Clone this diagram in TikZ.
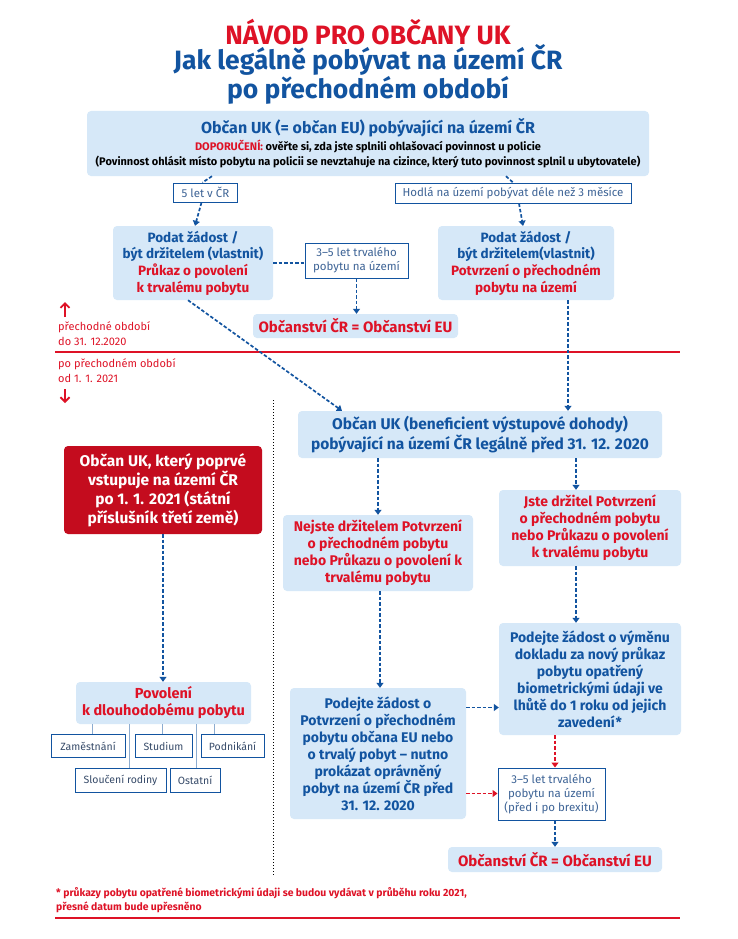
\documentclass[tikz,border=0pt]{standalone}
\usepackage{fontspec}
\setmainfont{Fira Sans}
\usetikzlibrary{arrows.meta,calc}
\definecolor{cblue}{RGB}{18,84,160}
\definecolor{cred}{RGB}{222,18,38}
\definecolor{cbox}{RGB}{214,232,248}
\definecolor{cdark}{RGB}{196,12,30}
\definecolor{cgrey}{RGB}{55,75,105}
\definecolor{csoft}{RGB}{62,100,150}
\definecolor{cline}{RGB}{140,172,208}
\begin{document}
\begin{tikzpicture}[x=1pt,y=-1pt,
  bbox/.style={fill=cbox, rounded corners=4pt, inner sep=0pt, align=center, font=\bfseries\fontsize{14}{17}\selectfont, text=cblue},
  sbox/.style={draw=cblue, line width=1pt, fill=white, inner sep=0pt, align=center, font=\fontsize{11.5}{14}\selectfont, text=csoft},
  catbox/.style={sbox, text=cgrey, font=\fontsize{10.5}{13}\selectfont},
  conn/.style={draw=cblue, line width=1.7pt, dash pattern=on 3.5pt off 2pt, -{Triangle[width=7pt,length=5pt]}},
  rconn/.style={conn, draw=cred},
  plainconn/.style={draw=cblue, line width=1.7pt, dash pattern=on 3.5pt off 2pt},
  thinline/.style={draw=cline, line width=0.8pt},
  rtext/.style={anchor=west, text=cred, font=\fontsize{11}{13}\selectfont, inner sep=0pt},
  periodarrow/.style={draw=cred, line width=1.8pt, -{Straight Barb[width=9pt,length=4.5pt]}},
]
\useasboundingbox[fill=white] (0,0) rectangle (738,939);

% title
\node[font=\bfseries\fontsize{26.5}{28}\selectfont, text=cred] (t1) at (368,32) {NÁVOD PRO OBČANY UK};
\node[font=\bfseries\fontsize{26.5}{28}\selectfont, text=cblue, align=center] (t2) at (368,74) {Jak legálně pobývat na území ČR\\po přechodném období};

% top box
\node[bbox, minimum width=562pt, minimum height=65pt] (top) at (368,143.5)
 {{\fontsize{16}{19}\selectfont Občan UK (= občan EU) pobývající na území ČR}\\[0pt]
  {\fontsize{11}{14}\selectfont\color{black}\textcolor{cred}{DOPORUČENÍ:} ověřte si, zda jste splnili ohlašovací povinnost u policie}\\[-2pt]
  {\fontsize{11}{14}\selectfont\color{black}(Povinnost ohlásit místo pobytu na policii se nevztahuje na cizince, který tuto povinnost splnil u ubytovatele)}};

\node[sbox, minimum width=64pt, minimum height=19pt] (let5) at (205.5,192.5) {5 let v ČR};
\node[sbox, minimum width=236pt, minimum height=20pt] (hodla) at (513,193) {Hodlá na území pobývat déle než 3 měsíce};

\node[bbox, minimum width=160pt, minimum height=74pt, font=\bfseries\fontsize{13.5}{16.7}\selectfont] (podL) at (193,263)
 {Podat žádost /\\být držitelem (vlastnit)\\\textcolor{cred}{Průkaz o povolení}\\\textcolor{cred}{k trvalému pobytu}};
\node[sbox, minimum width=103pt, minimum height=35pt] (let35a) at (356.5,260.5) {3–5 let trvalého\\pobytu na území};
\node[bbox, minimum width=205pt, minimum height=24pt, text=cred, font=\bfseries\fontsize{15}{17}\selectfont] (obcA) at (355.5,326) {Občanství ČR = Občanství EU};
\node[bbox, minimum width=176pt, minimum height=74pt, font=\bfseries\fontsize{13.5}{16.7}\selectfont] (podR) at (526,263)
 {Podat žádost /\\být držitelem(vlastnit)\\\textcolor{cred}{Potvrzení o přechodném}\\\textcolor{cred}{pobytu na území}};

% period separators
\coordinate (ua) at (65,317); \coordinate (ub) at (65,302);
\draw[periodarrow] (ua) -- (ub);
\node[rtext] (pre1) at (58,327) {přechodné období};
\node[rtext] (pre2) at (58,341) {do 31. 12.2020};
\draw[cred, line width=1.8pt] (55,352) -- (680,352);
\node[rtext] (po1) at (58,364) {po přechodném období};
\node[rtext] (po2) at (58,378) {od 1. 1. 2021};
\coordinate (da) at (65,389); \coordinate (db) at (65,403);
\draw[periodarrow] (da) -- (db);

% dotted separator
\draw[black, line width=1pt, dotted] (273,400) -- (273,875);

% after period
\node[bbox, minimum width=364pt, minimum height=47pt, font=\bfseries\fontsize{15.5}{19.5}\selectfont] (benef) at (480,434.5)
 {Občan UK (beneficient výstupové dohody)\\pobývající na území ČR legálně před 31. 12. 2020};
\node[fill=cdark, rounded corners=4pt, inner sep=0pt, minimum width=198pt, minimum height=88pt, align=center, text=white, font=\bfseries\fontsize{15.5}{19}\selectfont] (ukred) at (163,490)
 {Občan UK, který poprvé\\vstupuje na území ČR\\po 1. 1. 2021 (státní\\příslušník třetí země)};

\node[bbox, minimum width=190pt, minimum height=76pt, text=cred] (nejste) at (378,553)
 {Nejste držitelem Potvrzení\\o přechodném pobytu\\nebo Průkazu o povolení k\\trvalému pobytu};
\node[bbox, minimum width=182pt, minimum height=76pt, text=cred] (jste) at (590,528)
 {Jste držitel Potvrzení\\o přechodném pobytu\\nebo Průkazu o povolení\\k trvalému pobytu};
\node[bbox, minimum width=182pt, minimum height=112pt] (podejV) at (590,679)
 {Podejte žádost o výměnu\\dokladu za nový průkaz\\pobytu opatřený\\biometrickými údaji ve\\lhůtě do 1 roku od jejich\\zavedení*};
\node[bbox, minimum width=176pt, minimum height=131pt] (podejP) at (378,753.5)
 {Podejte žádost o\\Potvrzení o přechodném\\pobytu občana EU nebo\\o trvalý pobyt – nutno\\prokázat oprávněný\\pobyt na území ČR před\\31. 12. 2020};
\node[sbox, minimum width=107pt, minimum height=52pt] (let35b) at (551.5,794) {3–5 let trvalého\\pobytu na území\\(před i po brexitu)};
\node[bbox, minimum width=214pt, minimum height=25pt, text=cred, font=\bfseries\fontsize{15}{17}\selectfont] (obcB) at (555,859.5) {Občanství ČR = Občanství EU};

% povolení and categories
\coordinate (c1) at (92,735); \coordinate (c2) at (129,768); \coordinate (c3) at (162,735);
\coordinate (c4) at (196,768); \coordinate (c5) at (214,735);
\node[bbox, minimum width=175pt, minimum height=42pt, text=cred, font=\bfseries\fontsize{14.5}{17}\selectfont] (povol) at (163.5,703) {Povolení\\k dlouhodobému pobytu};
\foreach \c in {c1,c2,c3,c4,c5} \draw[thinline] (\c |- povol.south) -- (\c);
\node[catbox, minimum width=74pt, minimum height=23pt] (zam) at (88,746) {Zaměstnání};
\node[catbox, minimum width=57pt, minimum height=23pt] (stud) at (163.5,746) {Studium};
\node[catbox, minimum width=63pt, minimum height=23pt] (podn) at (232.5,746) {Podnikání};
\node[catbox, minimum width=91pt, minimum height=24pt] (slouc) at (120.5,780) {Sloučení rodiny};
\node[catbox, minimum width=50pt, minimum height=24pt] (ost) at (195,780) {Ostatní};

% connectors
\draw[plainconn] ([xshift=-156pt]top.south) -- ([xshift=-3pt]let5.north);
\draw[conn] ([xshift=-4pt]let5.south) -- ([xshift=2pt]podL.north);
\draw[plainconn] ([xshift=138pt]top.south) -- ([xshift=0pt]hodla.north);
\draw[conn] ([xshift=6pt]hodla.south) -- ([xshift=-3pt]podR.north);
\draw[plainconn] (podL.east) -- (podL.east -| let35a.west);
\draw[conn] (let35a.south) -- (let35a.south |- obcA.north);
\draw[conn] ([xshift=-5pt]podL.south) -- ([xshift=-138pt]benef.north);
\coordinate (pr) at ([xshift=42pt]podR.south);
\draw[conn] (pr) -- (pr |- benef.north);
\draw[conn] (benef.south -| nejste.north) -- (nejste.north);
\coordinate (jt) at ([xshift=-14pt]jste.north);
\draw[conn] (jt |- benef.south) -- (jt);
\coordinate (js) at ([xshift=-14pt]jste.south);
\draw[conn] (js) -- (js |- podejV.north);
\coordinate (ns) at ([xshift=2pt]nejste.south);
\draw[conn] (ns) -- (ns |- podejP.north);
\coordinate (pp1) at ([yshift=46pt]podejP.east);
\draw[conn] (pp1) -- (pp1 -| podejV.west);
\coordinate (pp2) at ([yshift=-40pt]podejP.east);
\draw[rconn] (pp2) -- (pp2 -| let35b.west);
\coordinate (pv) at ([xshift=-35pt]podejV.south);
\draw[rconn] (pv) -- (pv |- let35b.north);
\coordinate (lb) at ([xshift=3.5pt]let35b.south);
\draw[conn] (lb) -- (lb |- obcB.north);
\draw[conn] (ukred.south) -- (ukred.south |- povol.north);

% footnote
\node[rtext, font=\bfseries\fontsize{10.4}{13}\selectfont] (fn1) at (56,893) {* průkazy pobytu opatřené biometrickými údaji se budou vydávat v průběhu roku 2021,};
\node[rtext, font=\bfseries\fontsize{10.4}{13}\selectfont] (fn2) at (56,907) {přesné datum bude upřesněno};
\draw[cred, line width=1.8pt] (55,918) -- (680,918);
\end{tikzpicture}
\end{document}
